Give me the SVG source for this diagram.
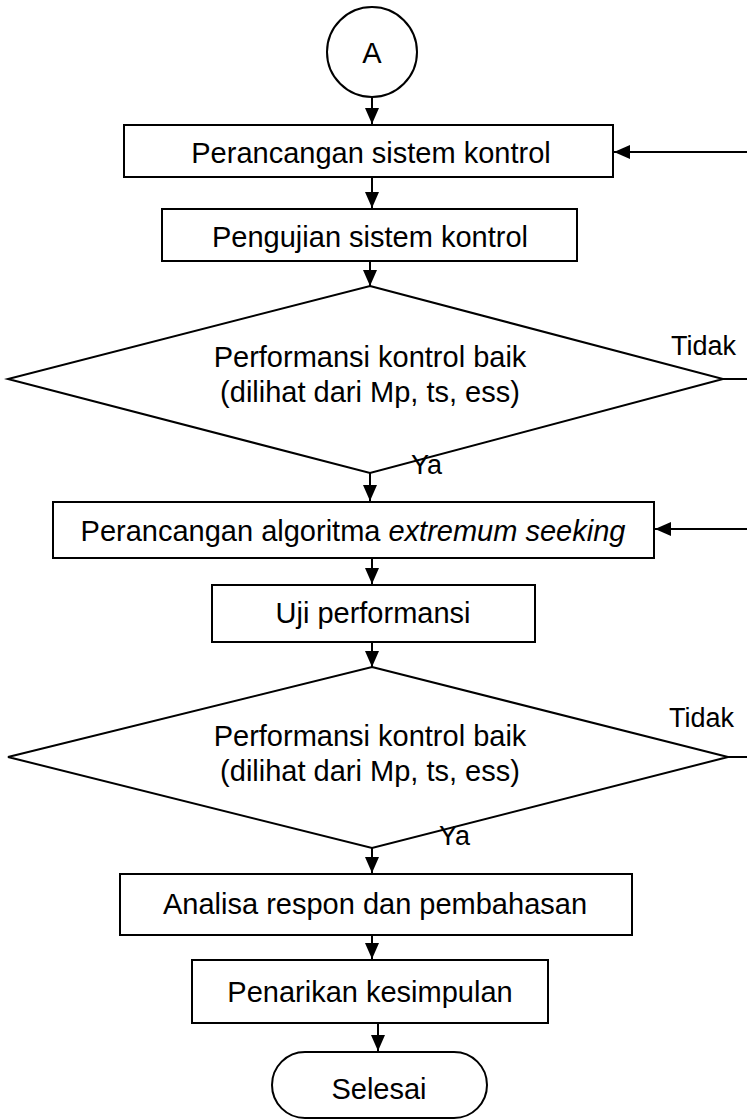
<svg xmlns="http://www.w3.org/2000/svg" width="747" height="1120" viewBox="0 0 747 1120">
<style>
.s{fill:#fff;stroke:#000;stroke-width:2}
.t{font-family:"Liberation Sans",Arial,sans-serif;font-size:29px;fill:#000;text-anchor:middle}
.l{font-family:"Liberation Sans",Arial,sans-serif;font-size:27px;fill:#000}
.c{fill:none;stroke:#000;stroke-width:2}
</style>
<defs>
<marker id="ah" viewBox="0 0 16 14" refX="16" refY="7" markerWidth="16" markerHeight="14" markerUnits="userSpaceOnUse" orient="auto">
<path d="M0,0 L16,7 L0,14 Z" fill="#000"/>
</marker>
</defs>
<rect width="747" height="1120" fill="#fff"/>
<g id="startA">
<circle class="s" cx="372" cy="52" r="45"/>
<text class="t" x="372" y="63">A</text>
</g>
<g id="n1">
<rect class="s" x="124" y="125" width="489" height="52"/>
<text class="t" x="371" y="163">Perancangan sistem kontrol</text>
</g>
<g id="n2">
<rect class="s" x="162" y="209" width="415" height="52"/>
<text class="t" x="370" y="247">Pengujian sistem kontrol</text>
</g>
<g id="d1">
<polygon class="s" points="370,286 723,379 370,473 8,379"/>
<text class="t" x="370" y="367">Performansi kontrol baik</text>
<text class="t" x="370" y="402">(dilihat dari Mp, ts, ess)</text>
</g>
<g id="n3">
<rect class="s" x="53" y="502" width="601" height="56"/>
<text class="t" x="353" y="541">Perancangan algoritma <tspan font-style="italic">extremum seeking</tspan></text>
</g>
<g id="n4">
<rect class="s" x="212" y="585" width="323" height="57"/>
<text class="t" x="373" y="623">Uji performansi</text>
</g>
<g id="d2">
<polygon class="s" points="372,667 728,757 372,848 8,757"/>
<text class="t" x="370" y="746">Performansi kontrol baik</text>
<text class="t" x="370" y="781">(dilihat dari Mp, ts, ess)</text>
</g>
<g id="n5">
<rect class="s" x="120" y="874" width="512" height="61"/>
<text class="t" x="375" y="914">Analisa respon dan pembahasan</text>
</g>
<g id="n6">
<rect class="s" x="192" y="960" width="356" height="63"/>
<text class="t" x="370" y="1002">Penarikan kesimpulan</text>
</g>
<g id="end">
<rect class="s" x="272" y="1052" width="215" height="66" rx="33" ry="33"/>
<text class="t" x="379" y="1099">Selesai</text>
</g>
<g id="connectors">
<line class="c" x1="372" y1="97" x2="372" y2="124" marker-end="url(#ah)"/>
<line class="c" x1="372" y1="177" x2="372" y2="208" marker-end="url(#ah)"/>
<line class="c" x1="370" y1="261" x2="370" y2="286" marker-end="url(#ah)"/>
<line class="c" x1="370" y1="473" x2="370" y2="501" marker-end="url(#ah)"/>
<line class="c" x1="372" y1="558" x2="372" y2="584" marker-end="url(#ah)"/>
<line class="c" x1="372" y1="642" x2="372" y2="667" marker-end="url(#ah)"/>
<line class="c" x1="372" y1="848" x2="372" y2="873" marker-end="url(#ah)"/>
<line class="c" x1="372" y1="935" x2="372" y2="959" marker-end="url(#ah)"/>
<line class="c" x1="378" y1="1023" x2="378" y2="1051" marker-end="url(#ah)"/>
<line class="c" x1="747" y1="152" x2="614" y2="152" marker-end="url(#ah)"/>
<line class="c" x1="747" y1="529" x2="655" y2="529" marker-end="url(#ah)"/>
<line class="c" x1="723" y1="379" x2="747" y2="379"/>
<line class="c" x1="728" y1="757" x2="747" y2="757"/>
<text class="l" x="671" y="355">Tidak</text>
<text class="l" x="411" y="474">Ya</text>
<text class="l" x="669" y="727">Tidak</text>
<text class="l" x="439" y="845">Ya</text>
</g>
</svg>
